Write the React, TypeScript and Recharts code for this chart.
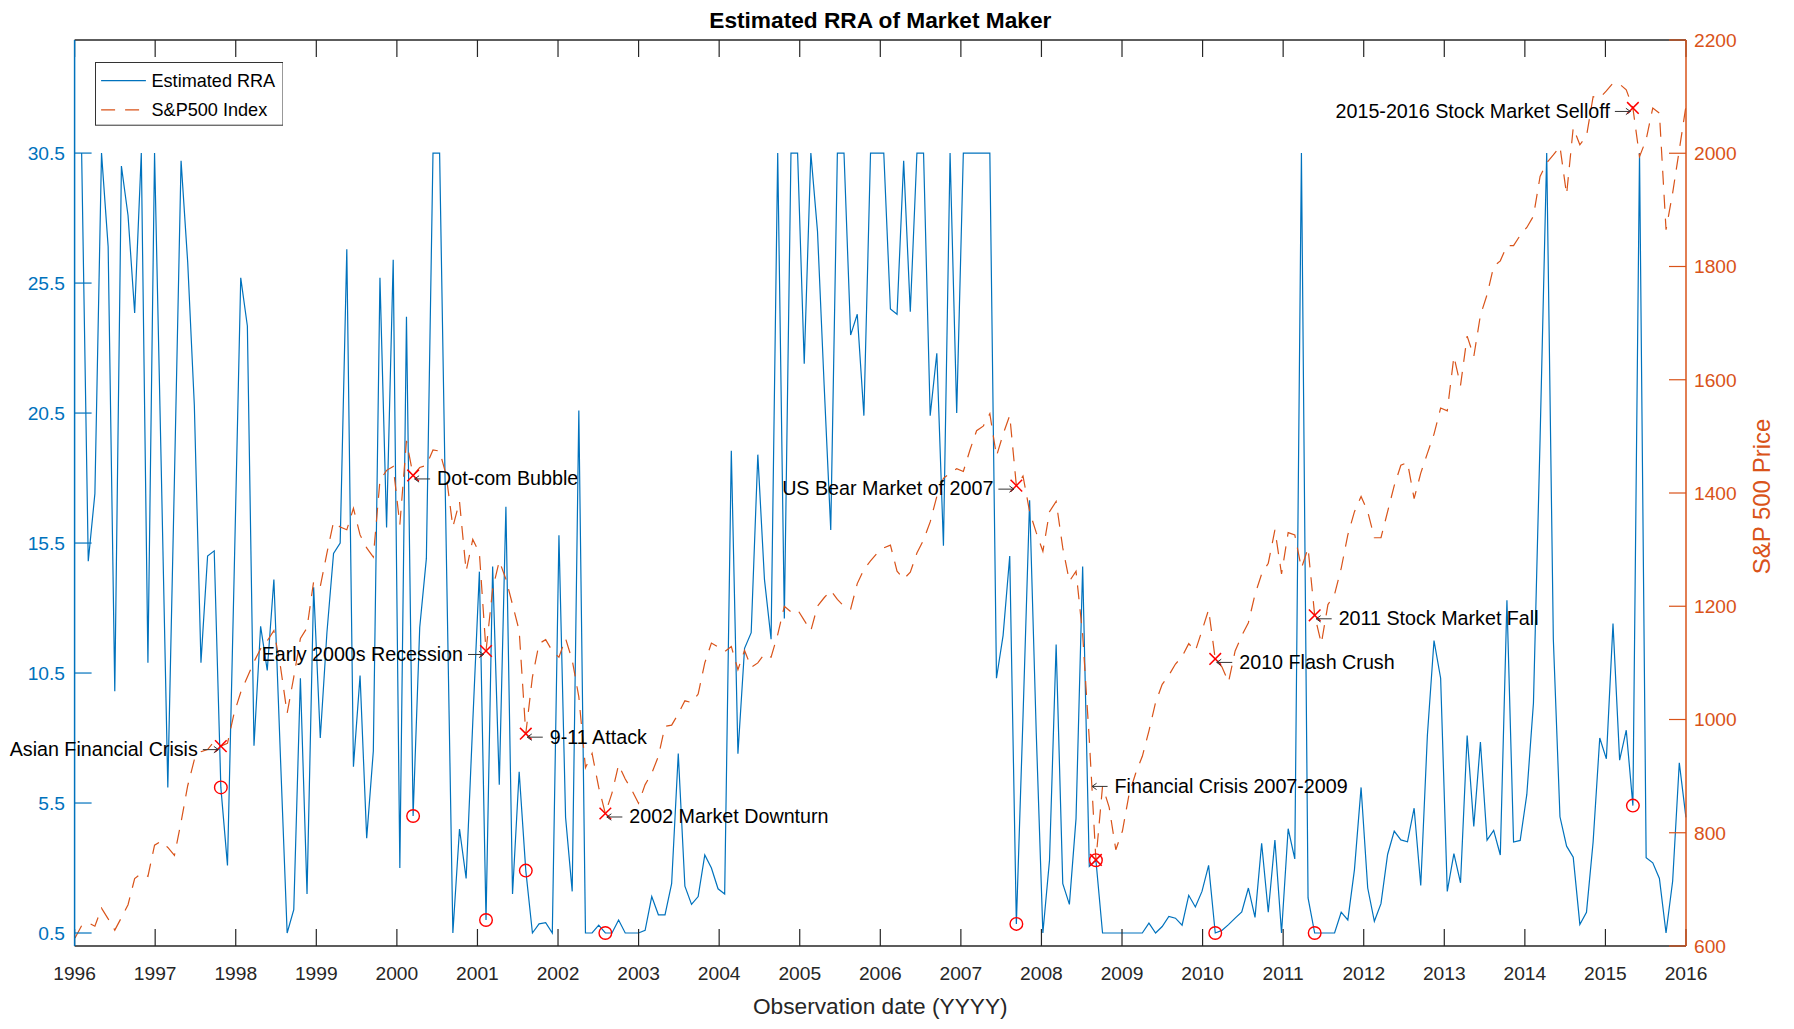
import React from 'react';
import { ComposedChart, Line, Scatter, XAxis, YAxis, Legend, ReferenceLine } from 'recharts';

const FONT = '"Liberation Sans", Arial, Helvetica, sans-serif';
const BLUE = '#0072BD';
const ORANGE = '#D95319';
const AXIS = '#262626';
const MARK = '#FF0000';

// observation times (one observation every ~30 days)
const START_YEAR = 1996.005;
const STEP_YEARS = 0.08228;

// S&P 500 index, one value per observation (first one precedes the first RRA value)
const SP500 = [
  614,
  636, 641, 635, 667, 648, 628, 650, 673, 719, 728,
  723, 778, 785, 774, 760, 819, 883, 929, 943, 947,
  961, 953, 958, 1011, 1048, 1075, 1102, 1125, 1139, 1157,
  1093, 1011, 1075, 1143, 1162, 1244, 1235, 1294, 1349, 1340,
  1335, 1373, 1326, 1303, 1287, 1422, 1440, 1447, 1344, 1492,
  1431, 1445, 1449, 1476, 1474, 1431, 1340, 1385, 1262, 1318,
  1294, 1121, 1230, 1280, 1248, 1203, 1157, 975, 1075, 1134,
  1141, 1121, 1110, 1143, 1105, 1040, 915, 940, 880, 834,
  870, 920, 895, 875, 852, 885, 905, 935, 988, 990,
  1010, 1033, 1030, 1045, 1100, 1135, 1128, 1120, 1129, 1088,
  1122, 1092, 1100, 1116, 1110, 1150, 1200, 1190, 1194, 1175,
  1157, 1200, 1215, 1228, 1212, 1200, 1195, 1240, 1265, 1280,
  1294, 1303, 1308, 1262, 1248, 1260, 1294, 1317, 1349, 1394,
  1426, 1435, 1443, 1438, 1476, 1510, 1518, 1540, 1465, 1504,
  1537, 1413, 1430, 1367, 1330, 1297, 1367, 1385, 1303, 1244,
  1262, 1150, 965, 752, 882, 845, 770, 803, 868, 905,
  935, 980, 1030, 1062, 1078, 1098, 1111, 1134, 1121, 1157,
  1194, 1107, 1093, 1066, 1121, 1148, 1171, 1221, 1257, 1276,
  1335, 1257, 1330, 1326, 1267, 1303, 1184, 1134, 1203, 1221,
  1267, 1326, 1367, 1394, 1367, 1321, 1321, 1367, 1413, 1449,
  1454, 1390, 1435, 1470, 1504, 1550, 1545, 1641, 1590, 1677,
  1641, 1714, 1750, 1800, 1810, 1837, 1837, 1855, 1869, 1889,
  1959, 1983, 1997, 2012, 1927, 2045, 2015, 2030, 2100, 2098,
  2110, 2124, 2122, 2112, 2080, 1994, 2024, 2080, 2071, 1865,
  1930, 2006, 2083,
];

// Estimated RRA, one value per observation starting with the second S&P observation
const RRA = [
  30.5, 14.8, 17.4, 30.5, 26.9, 9.8, 30.0, 28.1, 24.35, 30.5,
  10.9, 30.5, 18.5, 6.1, 18.0, 30.2, 26.3, 20.8, 10.9, 15.0,
  15.2, 6.1, 3.1, 14.2, 25.7, 23.85, 7.7, 12.3, 10.6, 14.1,
  7.2, 0.5, 1.4, 10.3, 2.0, 13.8, 8.0, 12.05, 15.1, 15.5,
  26.8, 6.9, 10.4, 4.15, 7.5, 25.7, 16.1, 26.4, 3.0, 24.2,
  5.0, 12.25, 14.9, 30.5, 30.5, 15.3, 0.5, 4.5, 2.6, 8.6,
  14.4, 1.0, 14.6, 6.2, 16.9, 2.0, 6.7, 2.9, 0.5, 0.85,
  0.9, 0.5, 15.8, 4.95, 2.1, 20.6, 0.5, 0.5, 0.8, 0.5,
  0.5, 1.0, 0.5, 0.5, 0.5, 0.6, 1.9, 1.2, 1.2, 2.4,
  7.4, 2.3, 1.6, 1.9, 3.5, 3.0, 2.2, 2.0, 19.05, 7.4,
  11.45, 12.05, 18.9, 14.1, 11.8, 30.5, 12.6, 30.5, 30.5, 22.4,
  30.5, 27.5, 21.6, 16.0, 30.5, 30.5, 23.5, 24.3, 20.4, 30.5,
  30.5, 30.5, 24.5, 24.3, 30.2, 24.4, 30.5, 30.5, 20.4, 22.8,
  15.4, 30.5, 20.5, 30.5, 30.5, 30.5, 30.5, 30.5, 10.3, 11.95,
  15.0, 0.85, 8.8, 17.15, 8.2, 0.5, 3.3, 11.6, 2.4, 1.6,
  4.9, 14.6, 3.06, 3.3, 0.5, 0.5, 0.5, 0.5, 0.5, 0.5,
  0.5, 0.88, 0.5, 0.75, 1.14, 1.07, 0.8, 1.95, 1.5, 2.1,
  3.1, 0.5, 0.6, 0.82, 1.07, 1.31, 2.23, 1.1, 3.95, 1.3,
  4.08, 0.5, 4.51, 3.35, 30.5, 1.85, 0.5, 0.5, 0.5, 0.5,
  1.3, 1.0, 2.94, 6.1, 2.23, 0.95, 1.63, 3.52, 4.42, 4.08,
  4.01, 5.3, 2.33, 8.1, 11.75, 10.3, 2.1, 3.55, 2.43, 8.1,
  4.6, 7.85, 4.07, 4.45, 3.5, 13.3, 4.0, 4.06, 5.83, 9.35,
  19.5, 30.5, 11.8, 4.97, 3.84, 3.42, 0.83, 1.3, 4.0, 8.0,
  7.2, 12.4, 7.15, 8.3, 5.4, 30.5, 3.4, 3.2, 2.6, 0.5,
  2.5, 7.05, 4.95,
];

const YEAR_TICKS = [1996, 1997, 1998, 1999, 2000, 2001, 2002, 2003, 2004, 2005, 2006,
  2007, 2008, 2009, 2010, 2011, 2012, 2013, 2014, 2015, 2016];
const RRA_TICKS = [0.5, 5.5, 10.5, 15.5, 20.5, 25.5, 30.5];
const SP_TICKS = [600, 800, 1000, 1200, 1400, 1600, 1800, 2000, 2200];
const RRA_MAX = 34.85;

// market events: label, RRA observation index, side of the label
const EVENT_LABELS = [
  'Asian Financial Crisis', 'Dot-com Bubble', 'Early 2000s Recession', '9-11 Attack',
  '2002 Market Downturn', 'US Bear Market of 2007', 'Financial Crisis 2007-2009',
  '2010 Flash Crush', '2011 Stock Market Fall', '2015-2016 Stock Market Selloff',
];
const EVENT_OBS = [21, 50, 61, 67, 79, 141, 153, 171, 186, 234];
const EVENT_SIDE = ['left', 'right', 'left', 'right', 'right', 'left', 'right', 'right', 'right', 'left'];
// label anchor that is not on the marker: [time, S&P level]
const LABEL_ANCHOR_OVERRIDE: Record<string, [number, number]> = {
  'Financial Crisis 2007-2009': [2008.61, 888],
};

const timeOf = (j: number) => START_YEAR + j * STEP_YEARS;

const rows = SP500.map((sp, j) => ({ t: timeOf(j), sp, rra: j === 0 ? null : RRA[j - 1] }));
const crossData = EVENT_OBS.map((k) => ({ t: timeOf(k + 1), v: SP500[k + 1] }));
const circleData = EVENT_OBS.map((k) => ({ t: timeOf(k + 1), v: RRA[k] }));
const labelData = EVENT_LABELS.map((label, i) => {
  const k = EVENT_OBS[i];
  const o = LABEL_ANCHOR_OVERRIDE[label];
  return {
    t: o ? o[0] : timeOf(k + 1),
    v: o ? o[1] : SP500[k + 1],
    label,
    side: EVENT_SIDE[i],
  };
});

const W = 1778;
const H = 1013;
const PLOT_LEFT = 66.6;
const PLOT_RIGHT = 1678;
const PLOT_TOP = 32;
const PLOT_BOTTOM = 938;
const TICK_LEN = 17;
// length of a top tick expressed in left-axis units
const TOP_TICK_UNITS = (TICK_LEN * RRA_MAX) / (PLOT_BOTTOM - PLOT_TOP);

const CrossShape = (p: any) => {
  const { cx, cy } = p;
  if (cx == null || cy == null) return null;
  const s = 5.8;
  return (
    <g stroke={MARK} strokeWidth={1.5}>
      <line x1={cx - s} y1={cy - s} x2={cx + s} y2={cy + s} />
      <line x1={cx - s} y1={cy + s} x2={cx + s} y2={cy - s} />
    </g>
  );
};

const RingShape = (p: any) => {
  const { cx, cy } = p;
  if (cx == null || cy == null) return null;
  return <circle cx={cx} cy={cy} r={6.3} fill="none" stroke={MARK} strokeWidth={1.4} />;
};

const ANN_SIZE = 19.7;
const AnnotationShape = (p: any) => {
  const { cx, cy, payload } = p;
  if (cx == null || cy == null || !payload) return null;
  const right = payload.side === 'right';
  const ay = cy + 3.5;
  const base = cy + 2.8 + 0.358 * ANN_SIZE;
  let arrow: string;
  let tx: number;
  if (right) {
    const h = cx + 1.5;
    const tail = cx + 17;
    arrow = `M${tail},${ay} L${h},${ay} M${h + 4.5},${ay - 3.2} L${h},${ay} L${h + 4.5},${ay + 3.2}`;
    tx = cx + 24;
  } else {
    const h = cx - 2.5;
    const tail = cx - 18;
    arrow = `M${tail},${ay} L${h},${ay} M${h - 4.5},${ay - 3.2} L${h},${ay} L${h - 4.5},${ay + 3.2}`;
    tx = cx - 23;
  }
  return (
    <g>
      <path d={arrow} stroke="#333" strokeWidth={1} fill="none" />
      <text
        x={tx}
        y={base}
        textAnchor={right ? 'start' : 'end'}
        fontFamily={FONT}
        fontSize={ANN_SIZE}
        fill="#000"
      >
        {payload.label}
      </text>
    </g>
  );
};

const LegendBox = (props: any) => {
  const items = (props.payload || [])
    .filter((e: any) => e && e.type !== 'none' && (e.dataKey === 'rra' || e.dataKey === 'sp'))
    .sort((a: any, b: any) => (a.dataKey === 'rra' ? 0 : 1) - (b.dataKey === 'rra' ? 0 : 1));
  return (
    <svg width={188.5} height={63.7} style={{ display: 'block' }}>
      <rect x={0.5} y={0.5} width={187.5} height={62.7} fill="#fff" stroke="#333" strokeWidth={1} />
      {items.map((e: any, i: number) => {
        const y = 18.6 + i * 29.2;
        const dashed = e.dataKey === 'sp' ? '14 10' : undefined;
        return (
          <g key={i}>
            <line x1={6.1} x2={50.9} y1={y} y2={y} stroke={e.color} strokeWidth={1.2} strokeDasharray={dashed} />
            <text x={56.5} y={y + 6.5} fontSize={18.1} fontFamily={FONT} fill="#000">
              {e.value}
            </text>
          </g>
        );
      })}
    </svg>
  );
};

export default function App() {
  return (
    <div style={{ width: W, height: H }}>
      <ComposedChart
        width={W}
        height={H}
        data={rows}
        margin={{ top: PLOT_TOP, right: 0, bottom: 0, left: 0 }}
      >
        <XAxis
          xAxisId="b"
          dataKey="t"
          type="number"
          domain={[1996, 2016]}
          ticks={YEAR_TICKS}
          interval={0}
          height={H - PLOT_BOTTOM}
          tickSize={-TICK_LEN}
          tickMargin={37}
          stroke={AXIS}
          axisLine={{ stroke: AXIS, strokeWidth: 1.5 }}
          tickLine={{ stroke: AXIS, strokeWidth: 1.2 }}
          tick={{ fill: AXIS, fontSize: 19.2, fontFamily: FONT }}
          tickFormatter={(v: number) => String(Math.round(v))}
        />
        <YAxis
          yAxisId="left"
          orientation="left"
          type="number"
          domain={[0, RRA_MAX]}
          ticks={RRA_TICKS}
          interval={0}
          width={PLOT_LEFT}
          tickSize={-TICK_LEN}
          tickMargin={26.6}
          stroke={BLUE}
          axisLine={{ stroke: BLUE, strokeWidth: 1.5 }}
          tickLine={{ stroke: BLUE, strokeWidth: 1.2 }}
          tick={{ fill: BLUE, fontSize: 19.2, fontFamily: FONT }}
        />
        <YAxis
          yAxisId="right"
          orientation="right"
          type="number"
          domain={[600, 2200]}
          ticks={SP_TICKS}
          interval={0}
          width={W - PLOT_RIGHT}
          tickSize={-TICK_LEN}
          tickMargin={25}
          stroke={ORANGE}
          axisLine={{ stroke: ORANGE, strokeWidth: 1.5 }}
          tickLine={{ stroke: ORANGE, strokeWidth: 1.2 }}
          tick={{ fill: ORANGE, fontSize: 19.2, fontFamily: FONT }}
        />
        <Legend
          layout="horizontal"
          verticalAlign="middle"
          align="center"
          content={<LegendBox />}
          wrapperStyle={{ position: 'absolute', left: 86.5, top: 54.3, width: 188.5, height: 63.7, lineHeight: 0 }}
        />
        {/* top edge of the box with its year ticks */}
        <ReferenceLine xAxisId="b" yAxisId="left" y={RRA_MAX} stroke={AXIS} strokeWidth={1.5} />
        {YEAR_TICKS.map((yr) => (
          <ReferenceLine
            key={yr}
            xAxisId="b"
            yAxisId="left"
            segment={[{ x: yr, y: RRA_MAX }, { x: yr, y: RRA_MAX - TOP_TICK_UNITS }]}
            stroke={AXIS}
            strokeWidth={1.2}
          />
        ))}
        <Line
          xAxisId="b"
          yAxisId="left"
          dataKey="rra"
          name="Estimated RRA"
          type="linear"
          stroke={BLUE}
          strokeWidth={1.2}
          dot={false}
          activeDot={false}
          isAnimationActive={false}
        />
        <Line
          xAxisId="b"
          yAxisId="right"
          dataKey="sp"
          name="S&P500 Index"
          type="linear"
          stroke={ORANGE}
          strokeWidth={1.2}
          strokeDasharray="14 10"
          dot={false}
          activeDot={false}
          isAnimationActive={false}
        />
        <Scatter
          xAxisId="b"
          yAxisId="right"
          data={crossData}
          dataKey="v"
          shape={(p: any) => <CrossShape {...p} />}
          legendType="none"
          isAnimationActive={false}
        />
        <Scatter
          xAxisId="b"
          yAxisId="left"
          data={circleData}
          dataKey="v"
          shape={(p: any) => <RingShape {...p} />}
          legendType="none"
          isAnimationActive={false}
        />
        <Scatter
          xAxisId="b"
          yAxisId="right"
          data={labelData}
          dataKey="v"
          shape={(p: any) => <AnnotationShape {...p} />}
          legendType="none"
          isAnimationActive={false}
        />
        <text
          x={(PLOT_LEFT + PLOT_RIGHT) / 2}
          y={19.6}
          textAnchor="middle"
          fontFamily={FONT}
          fontSize={22.7}
          fontWeight="bold"
          fill="#000"
        >
          Estimated RRA of Market Maker
        </text>
        <text
          x={(PLOT_LEFT + PLOT_RIGHT) / 2}
          y={1006}
          textAnchor="middle"
          fontFamily={FONT}
          fontSize={22.7}
          fill={AXIS}
        >
          Observation date (YYYY)
        </text>
        <text
          x={1753}
          y={488.5}
          dy="0.358em"
          transform="rotate(-90, 1753, 488.5)"
          textAnchor="middle"
          fontFamily={FONT}
          fontSize={24}
          fill={ORANGE}
        >
          S&amp;P 500 Price
        </text>
      </ComposedChart>
    </div>
  );
}
